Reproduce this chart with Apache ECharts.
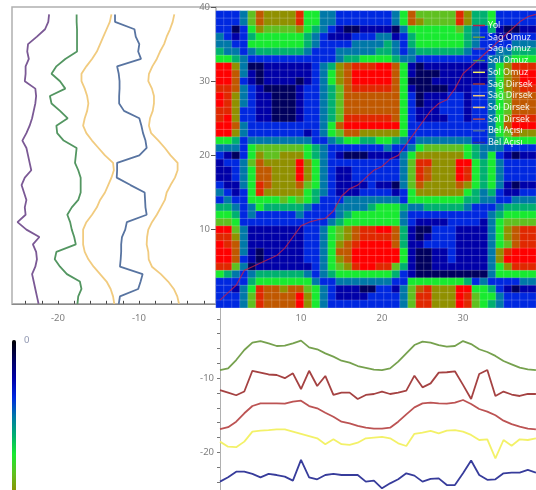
<!DOCTYPE html>
<html><head><meta charset="utf-8">
<style>html,body{margin:0;padding:0;background:#fff;overflow:hidden}#c{width:536px;height:490px;filter:blur(0.6px)}</style>
<script src="https://cdn.jsdelivr.net/npm/echarts@6/dist/echarts.min.js"></script>
</head><body><div id="c"></div>
<script>
// Values of 'Yol' warping path (x frame, y frame)
const pathX=[0,1,2,3,4,5,6,7,8,9,10,11,12,13,14,15,16,17,18,19,20,21,22,23,24,25,26,27,28,29,30,31,32,33,34,35,36,37,38,39];
const pathY=[0.5,1.5,2.5,4.5,5,5.5,6,6.5,7.5,9,10.5,11,11.3,11.5,12.5,14.5,15.5,16,17,18,18.5,19.5,20,21.5,23,24.5,26,27,27.5,29,31,32,33,34,35,36,37,38,38.7,39];
// Left panel series, listed from frame 39 down to frame 0
const leftPurple=[-21.1,-21.2,-21.6,-22.6,-23.7,-23.8,-23.6,-24,-24,-24.1,-22.8,-22.7,-22.8,-23,-23.2,-23.5,-23.9,-24.4,-23.9,-23.7,-23.5,-23.3,-24.1,-24.5,-24.2,-23.9,-24.1,-24,-25,-23.9,-22.3,-23.1,-22.7,-22.6,-22.8,-23.2,-23,-22.8,-22.6,-22.4];
const leftGreen=[-17.7,-17.7,-17.65,-17.65,-17.65,-17.65,-19.1,-20.2,-20.8,-19.75,-19.1,-21,-20.8,-19.75,-18.8,-20.2,-20.1,-19.3,-17.7,-17.8,-17.9,-17.5,-17.2,-17.2,-17.2,-17.5,-18.3,-18.85,-18.5,-18.3,-18,-17.8,-20.2,-20.4,-19.75,-18.9,-17.3,-17.1,-17.5,-17.6];
const leftOrangeA=[-13.4,-13.6,-14,-14.4,-14.8,-15.2,-15.8,-16.5,-17.1,-17.1,-16.7,-16.4,-16.25,-16.4,-16.7,-16.9,-16.5,-15.8,-15,-14.2,-13.2,-13.1,-13.4,-13.8,-14.2,-14.8,-15.2,-15.8,-16.5,-16.9,-16.9,-16.9,-16.7,-16.25,-15.6,-14.8,-14,-13.5,-13.2,-13.05];
const leftBlue=[-12.96,-12.96,-10.56,-10.4,-9.96,-10.1,-9.75,-12.7,-12.5,-12.4,-12.4,-12.45,-12.45,-11.85,-9.96,-9.7,-9.5,-9.2,-9.05,-9.96,-12.7,-12.7,-12.75,-11.05,-9.3,-9.25,-9.2,-9.05,-11.5,-11.7,-12.1,-12.2,-12.2,-12.26,-12.35,-9.55,-9.8,-10.1,-12.35,-12.5];
const leftOrangeB=[-5.64,-5.84,-6.17,-6.58,-6.9,-7.4,-7.8,-8.35,-8.77,-8.85,-8.4,-8.15,-8.15,-8.3,-8.64,-8.77,-8.5,-7.6,-6.8,-6.1,-5.23,-5.23,-5.56,-6.1,-6.58,-6.8,-7.3,-7.8,-8.4,-8.85,-9,-9.05,-8.85,-8.8,-8.4,-7.3,-6.4,-5.7,-5.27,-5.06];
// Bottom panel series, frame 0 to 39
const bottomGreen=[-8.9,-8.67,-7.55,-6.2,-5.2,-5,-5.3,-5.66,-5.6,-5.3,-4.94,-5.84,-6.1,-6.65,-7.1,-7.64,-7.9,-8.36,-8.6,-8.85,-8.9,-8.67,-7.77,-6.65,-5.53,-5.08,-5.2,-5.53,-5.75,-5.66,-5,-5.4,-6.1,-6.47,-7,-7.68,-8.13,-8.58,-8.8,-8.9];
const bottomRedA=[-11.6,-11.95,-12.3,-11.8,-9,-9.25,-9.5,-9.57,-10,-9.34,-11.46,-9,-11.05,-9.7,-12.26,-11.95,-11.95,-12.8,-12.26,-12.13,-11.8,-12.13,-11.95,-11.68,-9.66,-11.23,-10.7,-9.25,-9.2,-9.07,-10.9,-12.8,-9.43,-8.9,-12.4,-11.8,-12.2,-12.4,-12.13,-12.13];
const bottomRedB=[-16.85,-16.6,-15.86,-14.73,-13.75,-13.4,-13.4,-13.4,-13.43,-13.16,-13.03,-13.75,-14.06,-14.65,-15.2,-15.86,-16.1,-16.44,-16.67,-16.8,-16.8,-16.67,-15.86,-14.87,-13.93,-13.4,-13.3,-13.4,-13.43,-13.3,-12.94,-13.48,-14.15,-14.5,-15,-15.72,-16.2,-16.53,-16.8,-16.9];
const bottomYellow=[-18.55,-19.23,-19.3,-18.55,-17.2,-17.07,-17,-16.9,-16.9,-17.2,-17.5,-17.8,-18.1,-18.9,-18.24,-18.9,-19,-18.7,-18.1,-18,-17.9,-18.1,-18.78,-19.14,-17.5,-17.34,-17.1,-17.43,-17.07,-17,-17.2,-17.65,-18.33,-18.24,-20.8,-18.33,-19.1,-18.24,-18.33,-18.1];
const bottomBlue=[-23.94,-23.36,-22.6,-22.6,-22.9,-23.36,-22.9,-23.05,-23.27,-23.8,-21,-23.36,-23.63,-23.05,-22.9,-23.05,-23.05,-23.05,-23.94,-23.8,-24.84,-24.17,-23.63,-22.82,-23.13,-23.94,-23.58,-23.5,-24.4,-24.4,-22.82,-21.1,-23.05,-23.7,-23.63,-22.82,-22.73,-22.73,-22.37,-22.73];
// Cost matrix, top row first: levels 0..9 and a (=10)
const heatRows=[
"2223687777 9553322222 2235866666 9744522222",
"2223687777 9553322222 2235876666 9744522222",
"2202576666 7543210011 1103555555 6432410011",
"3212455555 5432111222 3312455555 5432211222",
"3322555555 5432222333 3432455555 5432222333",
"4332344444 4322233333 4432344444 4322233444",
"5543222222 2222234455 5543322222 2222334555",
"aa73001111 1123478999 aa85101111 1111357999",
"aa83101111 1123578aaa aa85100011 11113578aa",
"aa82101111 0123578aaa aa85000111 11113578aa",
"9983210000 1223468999 9985100001 1122357899",
"a973211000 1223468888 8885201112 2122356888",
"a973211000 1223468888 8885201122 2122356888",
"9972211000 1223468888 8885211122 2122356888",
"9a72211000 1223469999 9985211112 2122357999",
"aa83222222 222358aaaa aaa5222222 2222358aaa",
"aa73222222 2123568877 7775222222 2222356877",
"5542333333 3322345544 5543233333 3322345555",
"3332566666 6543222222 2322356666 6543332222",
"2102576677 7543210001 1113577777 7543521011",
"1223687777 a753222222 2223699777 aa54532222",
"1123588777 a753211222 2223698777 a954532222",
"1123588777 a753211222 2223698777 a954532222",
"2113598777 8653211112 1103687777 8754531011",
"3212597777 7543211122 2212577777 7543421122",
"2322555565 6542223333 3332555555 5443322333",
"4432354444 4322233334 5554334444 4322234444",
"5542322222 3222234555 5553222222 2222345555",
"6652222222 2222345555 5553211112 2221356666",
"aa63111111 1223567899 aa84100222 1111357899",
"9973111111 1223567899 9984101222 1111357899",
"a983111111 12235789aa aa84112222 1111356899",
"aa83101111 1223588aaa aaa5100112 1111379aaa",
"aa82101111 1223578aaa aaa5100112 111137aaaa",
"9963011111 11235679aa 9964100111 1111357999",
"5432344444 4323455555 5542100000 0000355555",
"2222455555 5532233333 3322555555 5423222233",
"2213598878 8653211100 2213689777 aa55421011",
"2223698888 a753211112 2223699777 a965532222",
"2223698888 a753222222 2223699777 a965432222"
];
const colorScale=['#000000','#00005e','#0000a8','#0028e0','#0078a8','#00b070','#18ea30','#60c020','#909000','#c05800','#e02800','#ff0000'];
const frames=Array.from({length:40},(_,i)=>String(i));
const xMinorTicks=[-24,-22,-20,-18,-16,-14,-12,-10,-8,-6,-4,-2];
const yMinorTicks=[-24,-22,-20,-18,-16,-14,-12,-10,-8,-6,-4,-2];
const xTopTicks=[2,4,6,8,10,12,14,16,18,20,22,24,26,28,30,32,34,36,38];
const yTopTicks=[10,20,30,40];

const heatData=[];
heatRows.forEach((r,ri)=>{r.replace(/ /g,'').split('').forEach((ch,c)=>{heatData.push([c,39-ri,ch==='a'?10:Number(ch)]);});});

const font='"Noto Sans","Open Sans",sans-serif';
const labelColor='#7f7f7f';
function left(name,arr,color){return {name,type:'line',xAxisIndex:0,yAxisIndex:0,symbol:'none',z:3,clip:true,
  lineStyle:{color,width:1.8,opacity:.95},itemStyle:{color},data:arr.map((v,i)=>[v,39-i])};}
function bottom(name,arr,color){return {name,type:'line',xAxisIndex:2,yAxisIndex:2,symbol:'none',z:3,clip:true,
  lineStyle:{color,width:1.8,opacity:.95},itemStyle:{color},data:arr.map((v,i)=>[i,v])};}

const series=[
 {type:'heatmap',xAxisIndex:1,yAxisIndex:1,data:heatData,z:2,progressive:0,
  itemStyle:{borderColor:'rgba(255,255,255,0.18)',borderWidth:1}},
 {name:'Yol',type:'line',xAxisIndex:3,yAxisIndex:3,symbol:'none',z:5,
  lineStyle:{color:'#c02048',width:1.2,opacity:.8},itemStyle:{color:'#c02048'},data:pathX.map((x,i)=>[x,pathY[i]])},
 bottom('Sağ Omuz',bottomGreen,'#6f9c45'),
 left('Sağ Omuz ',leftPurple,'#74508f'),
 left('Sol Omuz',leftGreen,'#4a9058'),
 bottom('Sol Omuz ',bottomYellow,'#f2f060'),
 bottom('Sağ Dirsek',bottomRedA,'#a03838'),
 left('Sağ Dirsek ',leftOrangeA,'#f0c878'),
 left('Sol Dirsek',leftOrangeB,'#f0c878'),
 bottom('Sol Dirsek ',bottomRedB,'#b84a4a'),
 left('Bel Açısı',leftBlue,'#4f6d9c'),
 bottom('Bel Açısı ',bottomBlue,'#2c3196')
];

const chart=echarts.init(document.getElementById('c'),null,{renderer:'canvas'});
chart.setOption({
 animation:false,backgroundColor:'#fff',textStyle:{fontFamily:font},
 grid:[
  {left:12,top:7,width:204,height:296.8,show:true,borderColor:'#b0b0b0',borderWidth:1.5,backgroundColor:'transparent'},
  {left:216,top:10.9,width:324,height:296.8},
  {left:220,top:304,width:316,height:186},
  {left:216,top:7,width:320,height:296.8}
 ],
 xAxis:[
  {gridIndex:0,type:'value',min:-25.68,max:-0.49,position:'bottom',splitLine:{show:false},
   axisLine:{show:true,onZero:false,lineStyle:{color:'#8a8a8a',width:1}},
   axisTick:{show:true,inside:true,length:3,lineStyle:{color:'#444'},customValues:xMinorTicks},
   axisLabel:{color:labelColor,fontSize:9.5,margin:9,customValues:[-20,-10],fontFamily:font}},
  {gridIndex:1,type:'category',data:frames,show:false},
  {gridIndex:2,type:'value',min:0,max:39.01,position:'top',splitLine:{show:false},
   axisLine:{show:false,onZero:false},
   axisTick:{show:true,inside:true,length:2,lineStyle:{color:'#222'},customValues:xTopTicks},
   axisLabel:{inside:true,color:labelColor,fontSize:9.5,margin:9,customValues:[10,20,30],fontFamily:font}},
  {gridIndex:3,type:'value',min:-0.49,max:39.01,position:'top',splitLine:{show:false},
   axisLine:{show:true,onZero:false,lineStyle:{color:'#b0b0b0',width:1.5}},axisTick:{show:false},axisLabel:{show:false}}
 ],
 yAxis:[
  {gridIndex:0,type:'value',min:0,max:40,position:'right',splitLine:{show:false},
   axisLine:{show:false,onZero:false},
   axisTick:{show:true,inside:true,length:5,lineStyle:{color:'#555'},customValues:yTopTicks},
   axisLabel:{inside:true,color:labelColor,fontSize:9.5,margin:6,customValues:yTopTicks,fontFamily:font}},
  {gridIndex:1,type:'category',data:frames,show:false},
  {gridIndex:2,type:'value',min:-25.07,max:0,position:'left',splitLine:{show:false},
   axisLine:{show:true,onZero:false,lineStyle:{color:'#b0b0b0',width:1}},
   axisTick:{show:true,length:3,lineStyle:{color:'#777'},customValues:yMinorTicks},
   axisLabel:{color:labelColor,fontSize:9.5,margin:6,customValues:[-20,-10],fontFamily:font}},
  {gridIndex:3,type:'value',min:0,max:40,show:false}
 ],
 visualMap:{type:'continuous',seriesIndex:0,dimension:2,min:-1,max:10,inverse:true,calculable:false,show:true,
  left:-3,top:325,itemWidth:4,itemHeight:210,text:null,inRange:{color:colorScale},textStyle:{color:'transparent'}},
 legend:{show:true,orient:'vertical',left:473,top:21,itemWidth:12,itemHeight:1.5,icon:'rect',itemGap:2.7,padding:0,
  textStyle:{color:'rgba(255,255,255,0.9)',fontSize:9,fontFamily:font,padding:[0,0,0,-2]},z:20,
  data:series.slice(1).map(s=>s.name)},
 graphic:[{type:'text',left:24,top:335,style:{text:'0',fill:'#8f96b0',font:'9.5px '+font}}],
 series
});
</script></body></html>
